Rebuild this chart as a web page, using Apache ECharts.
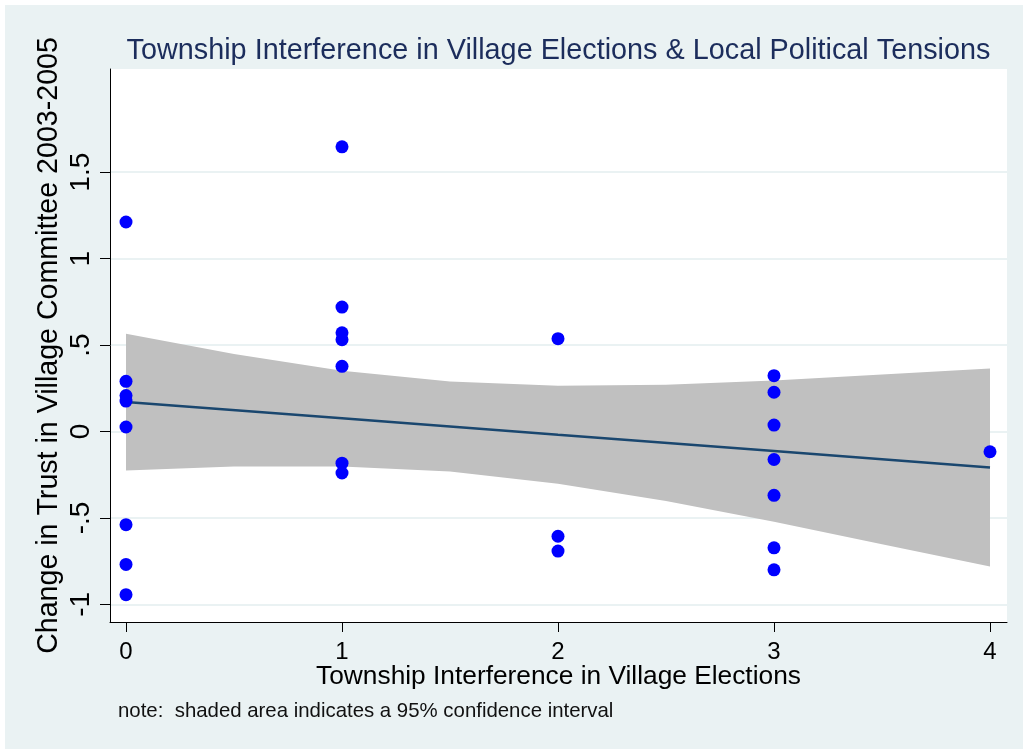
<!DOCTYPE html>
<html>
<head>
<meta charset="utf-8">
<script src="https://cdn.jsdelivr.net/npm/echarts@6/dist/echarts.min.js"></script>
<style>
html,body{margin:0;padding:0;background:#fff;}
#chart{width:1023px;height:749px;}
</style>
</head>
<body>
<div id="chart"></div>
<script>
// ---- data ----
const pointX = [0,0,0,0,0,0,0,0, 1,1,1,1,1,1,1, 2,2,2, 3,3,3,3,3,3,3, 4];
const pointY = [1.212,0.290,0.208,0.176,0.026,-0.539,-0.769,-0.944,
                1.647,0.720,0.571,0.531,0.377,-0.183,-0.240,
                0.537,-0.606,-0.692,
                0.323,0.227,0.037,-0.162,-0.369,-0.673,-0.800,
                -0.117];
const fitX = [0, 1, 2, 3, 4];
const fitY = [0.170, 0.076, -0.019, -0.113, -0.208];
const ciX = [0, 0.5, 1, 1.5, 2, 2.5, 3, 3.5, 4];
const ciUpper = [0.566, 0.449, 0.352, 0.289, 0.264, 0.270, 0.295, 0.330, 0.365];
const ciLower = [-0.226, -0.203, -0.202, -0.232, -0.302, -0.402, -0.522, -0.652, -0.781];
const xTicks = [0, 1, 2, 3, 4];
const xTickLabels = ['0', '1', '2', '3', '4'];
const yTicks = [-1, -0.5, 0, 0.5, 1, 1.5];
const yTickLabels = ['-1', '-.5', '0', '.5', '1', '1.5'];
const titleText = 'Township Interference in Village Elections & Local Political Tensions';
const xTitle = 'Township Interference in Village Elections';
const yTitle = 'Change in Trust in Village Committee 2003-2005';
const noteText = 'note:  shaded area indicates a 95% confidence interval';

const FONT = 'Liberation Sans, Arial, sans-serif';
const chart = echarts.init(document.getElementById('chart'), null, {renderer: 'canvas'});

const option = {
  backgroundColor: '#EAF2F3',
  animation: false,
  textStyle: {fontFamily: FONT},
  title: {
    text: titleText,
    left: 553.5, top: 32, textAlign: 'center',
    textStyle: {fontFamily: FONT, fontSize: 28.8, fontWeight: 'normal', color: '#1C2D5C'}
  },
  graphic: [
    {type: 'rect', left: 0, top: 0, shape: {width: 1023, height: 5}, style: {fill: '#fff'}, z: 100},
    {type: 'rect', left: 0, top: 0, shape: {width: 5, height: 749}, style: {fill: '#fff'}, z: 100},
    {type: 'text', left: 118, top: 701, style: {text: noteText, font: '20.4px ' + FONT, fill: '#111'}}
  ],
  grid: {
    left: 110, right: 16, top: 69, bottom: 127,
    show: true, backgroundColor: '#fff', borderWidth: 0
  },
  xAxis: {
    type: 'value', min: -0.0741, max: 4.0787,
    name: xTitle, nameLocation: 'middle', nameGap: 42, nameMoveOverlap: false,
    nameTextStyle: {fontFamily: FONT, fontSize: 26.3, color: '#000'},
    axisLine: {show: true, onZero: false, lineStyle: {color: '#000', width: 1}},
    axisTick: {show: true, length: 10, customValues: xTicks, lineStyle: {color: '#000'}},
    axisLabel: {customValues: xTicks, fontFamily: FONT, fontSize: 24, color: '#000', margin: 18,
      formatter: v => xTickLabels[xTicks.indexOf(v)] ?? ''},
    splitLine: {show: false}
  },
  yAxis: {
    type: 'value', min: -1.102, max: 2.097,
    name: yTitle, nameLocation: 'middle', nameGap: 46, nameRotate: 90, nameMoveOverlap: false,
    nameTextStyle: {fontFamily: FONT, fontSize: 28.6, color: '#000'},
    axisLine: {show: true, onZero: false, lineStyle: {color: '#000', width: 1}},
    axisTick: {show: true, length: 10, customValues: yTicks, lineStyle: {color: '#000'}},
    axisLabel: {customValues: yTicks, rotate: 90, fontFamily: FONT, fontSize: 28, color: '#000', margin: 15,
      formatter: v => yTickLabels[yTicks.indexOf(v)] ?? ''},
    splitLine: {show: true, lineStyle: {color: '#EAF2F3', width: 2}}
  },
  series: [
    {
      type: 'custom',
      silent: true,
      data: ciX.map((x, i) => [x, ciUpper[i], ciLower[i]]),
      encode: {x: 0, y: [1, 2]},
      renderItem: function (params, api) {
        if (params.dataIndex !== 0) return null;
        const pts = [];
        for (let i = 0; i < ciX.length; i++) pts.push(api.coord([ciX[i], ciUpper[i]]));
        for (let i = ciX.length - 1; i >= 0; i--) pts.push(api.coord([ciX[i], ciLower[i]]));
        return {type: 'polygon', shape: {points: pts}, style: {fill: '#C0C0C0', stroke: 'none'}};
      },
      z: 1
    },
    {
      type: 'line',
      data: fitX.map((x, i) => [x, fitY[i]]),
      symbol: 'none',
      lineStyle: {color: '#1A476F', width: 2.5},
      z: 2
    },
    {
      type: 'scatter',
      data: pointX.map((x, i) => [x, pointY[i]]),
      symbol: 'circle', symbolSize: 13,
      itemStyle: {color: '#0000FF', opacity: 1},
      z: 3
    }
  ]
};
chart.setOption(option);
</script>
</body>
</html>
